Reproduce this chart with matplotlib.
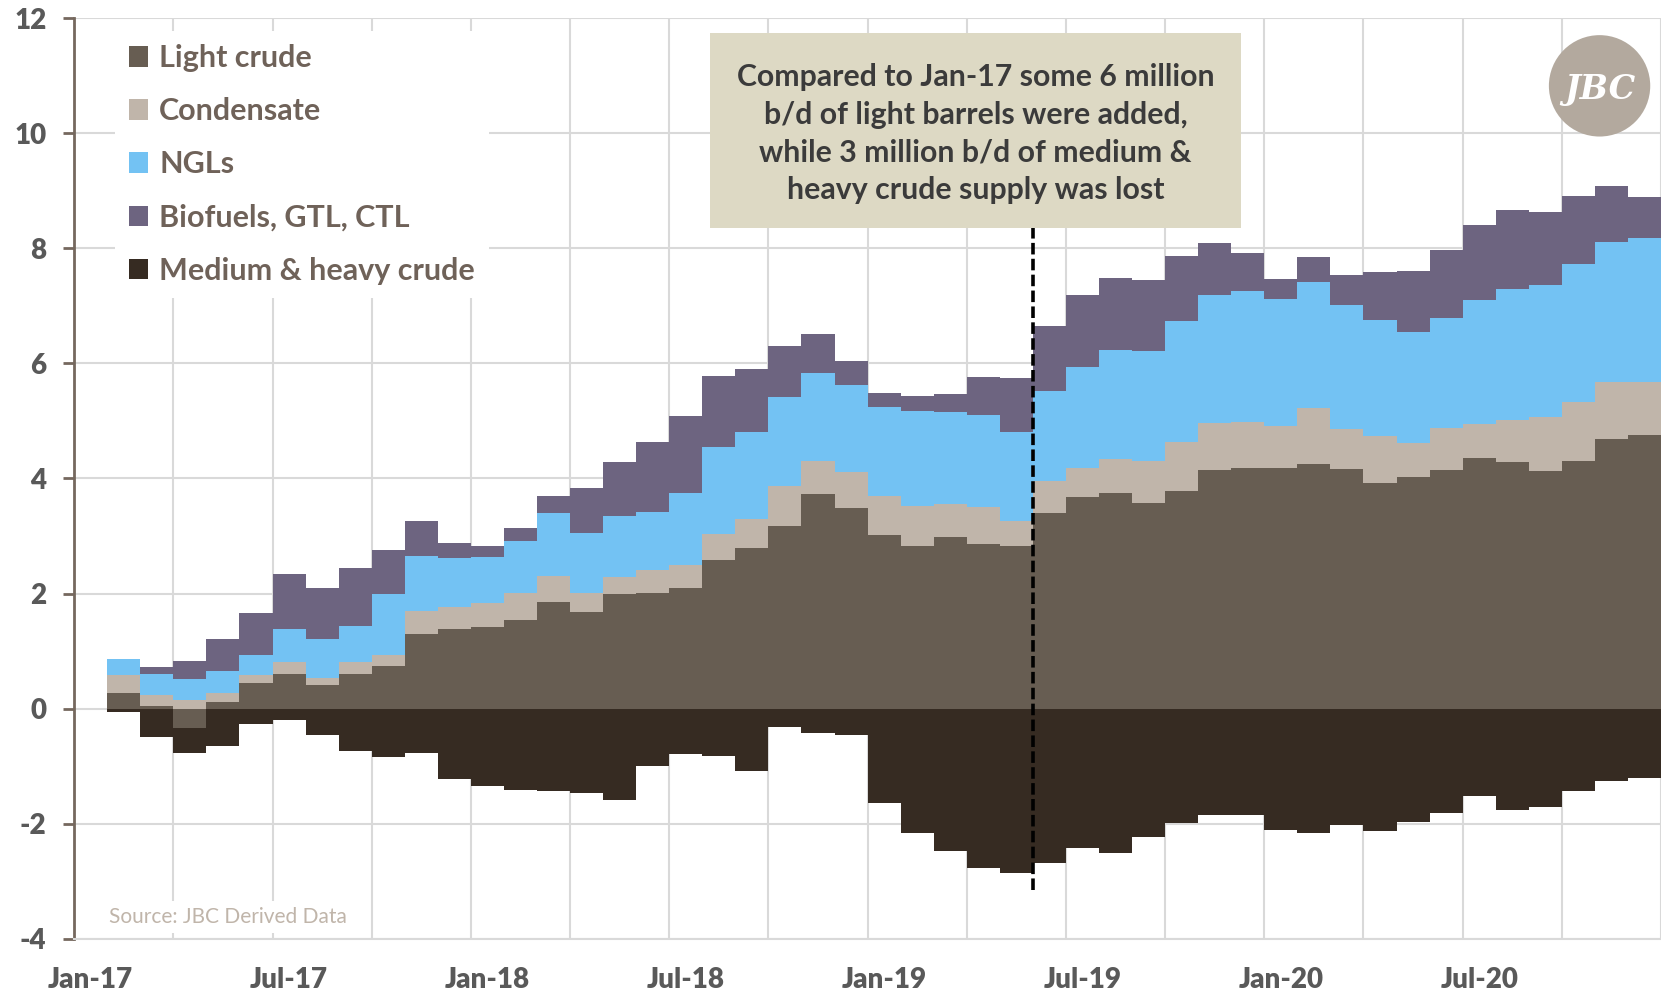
import matplotlib
matplotlib.use("Agg")
import matplotlib.pyplot as plt
import numpy as np
from matplotlib.patches import Patch, Rectangle, Circle

plt.rcParams['font.family'] = ['Lato', 'DejaVu Sans']

months = ["Jan-17","Feb-17","Mar-17","Apr-17","May-17","Jun-17","Jul-17","Aug-17","Sep-17","Oct-17","Nov-17","Dec-17",
          "Jan-18","Feb-18","Mar-18","Apr-18","May-18","Jun-18","Jul-18","Aug-18","Sep-18","Oct-18","Nov-18","Dec-18",
          "Jan-19","Feb-19","Mar-19","Apr-19","May-19","Jun-19","Jul-19","Aug-19","Sep-19","Oct-19","Nov-19","Dec-19",
          "Jan-20","Feb-20","Mar-20","Apr-20","May-20","Jun-20","Jul-20","Aug-20","Sep-20","Oct-20","Nov-20","Dec-20"]

light_crude = [0, 0.28, 0.04, -0.34, 0.12, 0.45, 0.60, 0.42, 0.61, 0.75, 1.29, 1.38,
               1.42, 1.55, 1.86, 1.68, 2.00, 2.01, 2.10, 2.58, 2.79, 3.17, 3.73, 3.48,
               3.02, 2.83, 2.99, 2.86, 2.83, 3.40, 3.68, 3.74, 3.58, 3.78, 4.15, 4.18,
               4.19, 4.26, 4.16, 3.93, 4.03, 4.15, 4.36, 4.29, 4.13, 4.31, 4.69, 4.75]
condensate = [0, 0.31, 0.19, 0.16, 0.16, 0.14, 0.22, 0.11, 0.20, 0.18, 0.41, 0.38,
              0.42, 0.46, 0.44, 0.33, 0.29, 0.40, 0.40, 0.46, 0.51, 0.70, 0.57, 0.64,
              0.67, 0.69, 0.56, 0.65, 0.44, 0.55, 0.51, 0.59, 0.73, 0.85, 0.82, 0.81,
              0.73, 0.97, 0.70, 0.80, 0.58, 0.72, 0.59, 0.72, 0.94, 1.02, 0.98, 0.92]
ngls = [0, 0.28, 0.38, 0.35, 0.37, 0.34, 0.57, 0.68, 0.63, 1.06, 0.96, 0.85,
        0.79, 0.91, 1.10, 1.05, 1.05, 1.00, 1.24, 1.50, 1.50, 1.55, 1.54, 1.50,
        1.56, 1.66, 1.60, 1.59, 1.53, 1.57, 1.74, 1.90, 1.90, 2.11, 2.22, 2.27,
        2.20, 2.19, 2.16, 2.02, 1.94, 1.91, 2.15, 2.29, 2.29, 2.39, 2.44, 2.50]
biofuels = [0, 0, 0.12, 0.32, 0.56, 0.74, 0.95, 0.89, 1.00, 0.77, 0.61, 0.27,
            0.20, 0.22, 0.30, 0.77, 0.95, 1.23, 1.35, 1.24, 1.10, 0.88, 0.67, 0.42,
            0.23, 0.26, 0.32, 0.67, 0.95, 1.13, 1.26, 1.26, 1.23, 1.12, 0.90, 0.66,
            0.35, 0.43, 0.51, 0.83, 1.06, 1.19, 1.30, 1.36, 1.27, 1.18, 0.98, 0.72]
medium_heavy = [0, -0.06, -0.49, -0.43, -0.64, -0.26, -0.19, -0.45, -0.74, -0.84, -0.77, -1.22,
                -1.34, -1.42, -1.43, -1.46, -1.58, -0.99, -0.78, -0.82, -1.08, -0.31, -0.43, -0.45,
                -1.63, -2.16, -2.47, -2.76, -2.85, -2.68, -2.42, -2.51, -2.23, -1.99, -1.84, -1.84,
                -2.10, -2.16, -2.02, -2.13, -1.97, -1.81, -1.52, -1.76, -1.71, -1.43, -1.26, -1.21]

series_names = ["Light crude", "Condensate", "NGLs", "Biofuels, GTL, CTL", "Medium & heavy crude"]
series_colors = ["#675D52", "#C0B5AA", "#73C2F3", "#6D6480", "#362B22"]
series_values = [light_crude, condensate, ngls, biofuels, medium_heavy]

y_ticks = [-4, -2, 0, 2, 4, 6, 8, 10, 12]
annotation = ("Compared to Jan-17 some 6 million\nb/d of light barrels were added,\n"
              "while 3 million b/d of medium &\nheavy crude supply was lost")
source_text = "Source: JBC Derived Data"

W, H = 1661, 993
fig = plt.figure(figsize=(W/100, H/100), dpi=100)
ax = fig.add_axes([70/1568, 1-886/937, 1-70/1568, (886-17)/937])

x = np.arange(len(months))
pos_base = np.zeros(len(months))
neg_base = np.zeros(len(months))
for name, col, vals in zip(series_names, series_colors, series_values):
    v = np.array(vals, dtype=float)
    bottom = np.where(v >= 0, pos_base, neg_base)
    ax.bar(x, v, width=1.0, bottom=bottom, color=col, edgecolor='none', linewidth=0, zorder=2)
    pos_base = pos_base + np.where(v >= 0, v, 0)
    neg_base = neg_base + np.where(v < 0, v, 0)

ax.set_xlim(-0.5, len(months) - 0.5)
ax.set_ylim(-4, 12)
ax.set_yticks(y_ticks)
ax.set_yticklabels([str(t) for t in y_ticks])
ax.set_xticks(x[::6])
ax.set_xticklabels(months[::6])
ax.set_xticks(np.arange(2.5, len(months), 3), minor=True)

grid_c = "#D9D9D9"
ax.grid(axis='y', which='major', color=grid_c, lw=1.5, zorder=0)
ax.grid(axis='x', which='minor', color=grid_c, lw=1.5, zorder=0)
ax.grid(axis='x', which='major', visible=False)
ax.set_axisbelow(True)

for s in ['top', 'right']:
    ax.spines[s].set_visible(False)
ax.spines['bottom'].set_color(grid_c)
ax.spines['bottom'].set_linewidth(1.5)
ax.spines['left'].set_color("#75685E")
ax.spines['left'].set_linewidth(2)

ax.tick_params(axis='y', which='major', length=8, width=2, color="#75685E",
               labelsize=20, labelcolor="#595959", pad=12)
ax.tick_params(axis='x', which='both', length=0, labelsize=20, labelcolor="#595959", pad=20)
for lab in ax.get_xticklabels() + ax.get_yticklabels():
    lab.set_fontweight('heavy')

# legend
handles = [Patch(facecolor=c, edgecolor='none', label=n) for n, c in zip(series_names, series_colors)]
leg = ax.legend(handles=handles, loc='upper left', bbox_to_anchor=(0.016, 1.003),
                frameon=True, fancybox=False, framealpha=1, edgecolor='none', facecolor='white',
                handlelength=0.65, handleheight=0.65, handletextpad=0.35, labelspacing=0.82,
                borderpad=0.45, prop={'weight': 'bold', 'size': 22})
for t in leg.get_texts():
    t.set_color("#6F6259")
leg.set_zorder(5)

# annotation box
ax.add_patch(Rectangle((18.73, 8.36), 16.07, 3.38, facecolor="#DDD9C4", edgecolor='none', zorder=6))
ax.text(26.77, 9.99, annotation, ha='center', va='center', fontsize=21.8, fontweight='bold',
        color="#3B3B3B", linespacing=1.42, zorder=7)

# dashed line
ax.plot([28.5, 28.5], [-3.15, 8.36], color='black', lw=2.6, linestyle=(0, (3.2, 1.2)), zorder=8)

# source
ax.text(0.55, -3.62, source_text, fontsize=15, color="#C0B5AA", ha='left', va='center', zorder=6,
        bbox=dict(facecolor='white', edgecolor='none', pad=4))

# logo
lax = fig.add_axes([(1510-52)/1568, 1-(81+52)/937, 104/1568, 104/937])
lax.set_xlim(0, 1); lax.set_ylim(0, 1)
lax.set_aspect('equal', adjustable='datalim')
lax.axis('off')
lax.add_patch(Circle((0.5, 0.5), 0.46, facecolor="#B3A99E", edgecolor='none'))
lax.text(0.5, 0.47, "JBC", fontsize=24, color='white', ha='center', va='center',
         family='DejaVu Serif', fontweight='bold', style='italic')

fig.savefig("out.png", dpi=100, facecolor='white')
